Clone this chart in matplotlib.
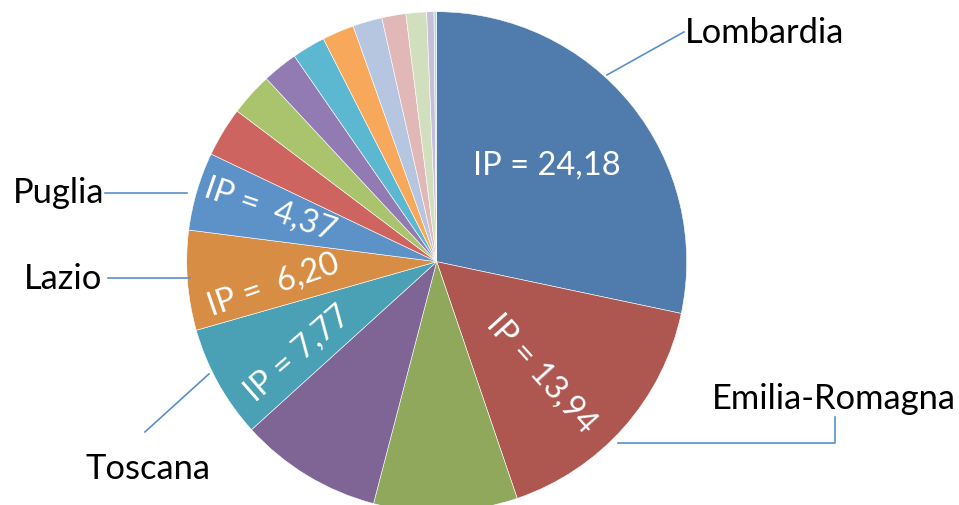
import matplotlib.pyplot as plt

# share of each region, clockwise from 12 o'clock
regions = ['Lombardia', 'Emilia-Romagna', '', '', 'Toscana', 'Lazio', 'Puglia',
           '', '', '', '', '', '', '', '', '', '']
shares = [28.3, 16.45, 9.28, 9.2, 7.3, 6.44, 5.06, 3.2, 2.78, 2.29, 2.15,
          2.06, 1.9, 1.55, 1.33, 0.47, 0.17]
ip_labels = {'Lombardia': 'IP = 24,18', 'Emilia-Romagna': 'IP = 13,94',
             'Toscana': 'IP = 7,77', 'Lazio': 'IP =  6,20', 'Puglia': 'IP =  4,37'}

colors = ['#4f7cac', '#ae5751', '#8fa85b', '#7e6596', '#4aa0b4', '#d88d45',
          '#5d92c8', '#cd645f', '#a9c46c', '#927bb2', '#5cb7d0', '#f8a85a',
          '#b6c6e0', '#e1b8b7', '#d2dfbf', '#c7bed8', '#b2d8e6']

plt.rcParams['font.family'] = ['Lato', 'DejaVu Sans']

fig = plt.figure(figsize=(9.59, 5.05), dpi=100)
ax = fig.add_axes([0, 0, 1, 1])
ax.pie(shares, colors=colors, startangle=90, counterclock=False, radius=1,
       wedgeprops=dict(edgecolor='white', linewidth=0.4))
ax.set_xlim(-1.7468, 2.0892)
ax.set_ylim(-0.9732, 1.0468)
ax.set_aspect('auto')
ax.axis('off')

# inner value labels: (x, y, rotation)
inner = {'Lombardia': (0.441, 0.385, 0),
         'Emilia-Romagna': (0.417, -0.447, -48),
         'Toscana': (-0.557, -0.366, 41),
         'Lazio': (-0.654, -0.093, 19),
         'Puglia': (-0.667, 0.207, -19)}
for name, (x, y, rot) in inner.items():
    ax.text(x, y, ip_labels[name], color='white', fontsize=23.5, rotation=rot,
            rotation_mode='anchor', ha='center', va='center')

# outer names with leader lines
lc = '#5b8fcb'
outer = {'Lombardia': ((0.993, 0.874), [(0.681, 0.747), (0.989, 0.919)]),
         'Emilia-Romagna': ((1.587, -0.589), [(0.725, -0.725), (1.593, -0.725), (1.593, -0.621)]),
         'Toscana': ((-1.405, -0.870), [(-1.167, -0.681), (-0.911, -0.449)]),
         'Lazio': ((-1.650, -0.110), [(-1.315, -0.065), (-0.987, -0.065)]),
         'Puglia': ((-1.697, 0.234), [(-1.327, 0.274), (-0.999, 0.274)])}
for name, ((tx, ty), pts) in outer.items():
    ha = 'center' if name == 'Emilia-Romagna' else 'left'
    ax.text(tx, ty, name, fontsize=24.8, color='black', ha=ha, va='baseline')
    ax.plot([p[0] for p in pts], [p[1] for p in pts], color=lc, lw=1.2)

fig.savefig('out.png', dpi=100)
